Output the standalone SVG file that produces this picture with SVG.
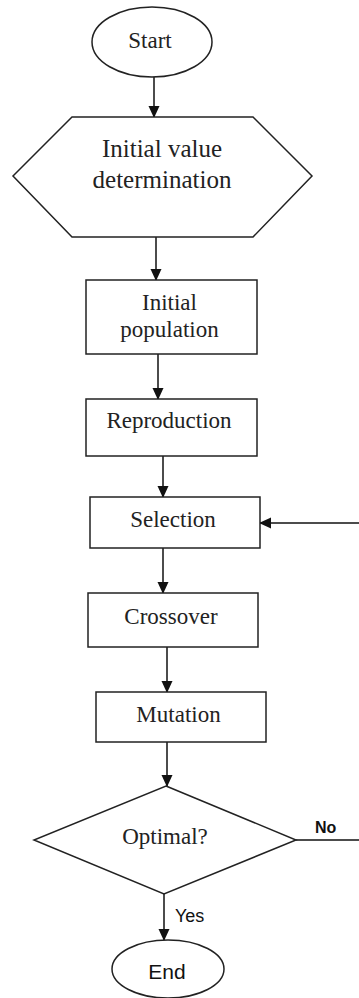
<svg xmlns="http://www.w3.org/2000/svg" width="359" height="998" viewBox="0 0 359 998">
<style>
.s{fill:#fff;stroke:#222;stroke-width:1.5}
.c{fill:none;stroke:#111;stroke-width:1.5}
.t{font-family:"Liberation Serif","Times New Roman",serif;fill:#222;text-anchor:middle;font-size:23px}
.a{font-family:"Liberation Sans",Arial,sans-serif;fill:#111}
</style>
<defs>
<marker id="ah" markerWidth="12" markerHeight="12" refX="11" refY="6" orient="auto" markerUnits="userSpaceOnUse">
<path d="M0,0.5 L12,6 L0,11.5 Z" fill="#111"/>
</marker>
</defs>
<rect width="359" height="998" fill="#fff"/>
<g id="connectors">
<line class="c" x1="154" y1="77" x2="154" y2="117" marker-end="url(#ah)"/>
<line class="c" x1="156" y1="237" x2="156" y2="280" marker-end="url(#ah)"/>
<line class="c" x1="158" y1="354" x2="158" y2="399" marker-end="url(#ah)"/>
<line class="c" x1="163" y1="456" x2="163" y2="497" marker-end="url(#ah)"/>
<line class="c" x1="163" y1="548" x2="163" y2="593" marker-end="url(#ah)"/>
<line class="c" x1="167" y1="647" x2="167" y2="692" marker-end="url(#ah)"/>
<line class="c" x1="167" y1="742" x2="167" y2="786" marker-end="url(#ah)"/>
<line class="c" x1="296" y1="840" x2="359" y2="840"/>
<line class="c" x1="359" y1="523" x2="260" y2="523" marker-end="url(#ah)"/>
<line class="c" x1="164" y1="894" x2="164" y2="940" marker-end="url(#ah)"/>
<text class="a" x="315" y="833" font-size="16" font-weight="bold">No</text>
<text class="a" x="175" y="922" font-size="18">Yes</text>
</g>
<g id="start">
<ellipse class="s" cx="152" cy="42" rx="60" ry="35"/>
<text class="t" x="150" y="48">Start</text>
</g>
<g id="init-value">
<polygon class="s" points="72,117 253,117 312,176 253,237 72,237 13,176"/>
<text class="t" x="162" y="157" style="font-size:25px">Initial value</text>
<text class="t" x="162" y="188" style="font-size:25px">determination</text>
</g>
<g id="init-pop">
<rect class="s" x="86" y="280" width="171" height="74"/>
<text class="t" x="169.5" y="310">Initial</text>
<text class="t" x="169.5" y="337">population</text>
</g>
<g id="reproduction">
<rect class="s" x="86" y="399" width="171" height="57"/>
<text class="t" x="169" y="428">Reproduction</text>
</g>
<g id="selection">
<rect class="s" x="90" y="497" width="170" height="51"/>
<text class="t" x="173" y="527">Selection</text>
</g>
<g id="crossover">
<rect class="s" x="88" y="593" width="170" height="54"/>
<text class="t" x="171" y="624">Crossover</text>
</g>
<g id="mutation">
<rect class="s" x="96" y="692" width="170" height="50"/>
<text class="t" x="178.5" y="722">Mutation</text>
</g>
<g id="optimal">
<polygon class="s" points="166,786 296,840 164,894 34,840"/>
<text class="t" x="165" y="844">Optimal?</text>
</g>
<g id="end">
<ellipse class="s" cx="168" cy="969" rx="56" ry="29"/>
<text class="a" x="167" y="979" font-size="21" text-anchor="middle">End</text>
</g>
</svg>
